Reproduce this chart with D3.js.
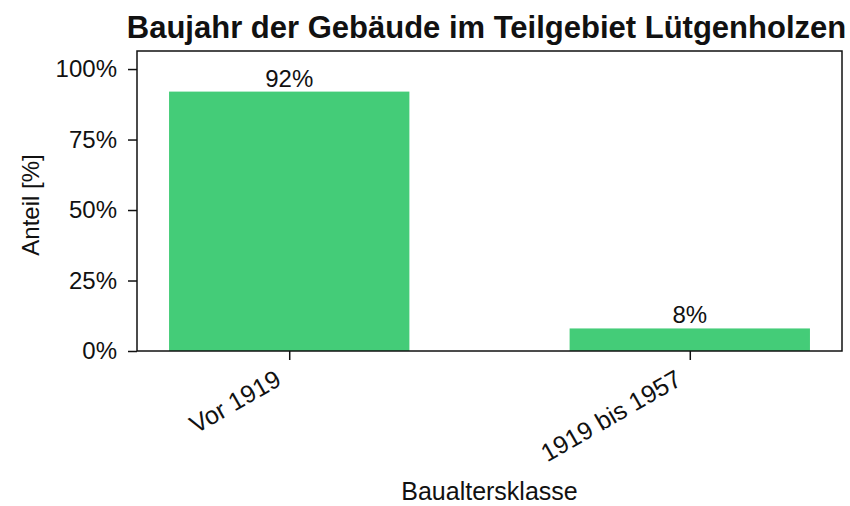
<!DOCTYPE html>
<html>
<head>
<meta charset="utf-8">
<script src="https://cdn.jsdelivr.net/npm/d3@7"></script>
<style>
  body { margin: 0; background: #fff; }
  text { font-family: "Liberation Sans", Arial, sans-serif; fill: #111; }
</style>
</head>
<body>
<div id="chart"></div>
<script>
// data
var categories = ["Vor 1919", "1919 bis 1957"];
var shares = [0.92, 0.08];
var barLabels = ["92%", "8%"];
var yTicks = [0, 0.25, 0.5, 0.75, 1.0];

var W = 850, H = 506;
var margin = {top: 51, right: 8, bottom: 155, left: 137},
    width = W - margin.left - margin.right,
    height = H - margin.top - margin.bottom;

var svg = d3.select("#chart")
  .append("svg")
    .attr("width", W)
    .attr("height", H)
  .append("g")
    .attr("transform", "translate(" + margin.left + "," + margin.top + ")");

// bars sit at 0,1 with width 0.6, like a default bar plot
var x = d3.scaleLinear().domain([-0.38, 1.38]).range([0, width]);
var y = d3.scaleLinear().domain([0, 1.064]).range([height, 0]);
var barW = 0.6;

svg.selectAll("rect.bar")
  .data(shares)
  .enter()
  .append("rect")
    .attr("class", "bar")
    .attr("x", function(d, i) { return x(i - barW / 2); })
    .attr("width", x(barW) - x(0))
    .attr("y", function(d) { return y(d); })
    .attr("height", function(d) { return height - y(d); })
    .style("fill", "#44cc78");

svg.selectAll("text.val")
  .data(shares)
  .enter()
  .append("text")
    .attr("class", "val")
    .attr("x", function(d, i) { return x(i); })
    .attr("y", function(d) { return y(d) - 5; })
    .attr("text-anchor", "middle")
    .style("font-size", "24px")
    .text(function(d, i) { return barLabels[i]; });

// y axis
var yAxis = svg.append("g")
    .call(d3.axisLeft(y).tickValues(yTicks).tickSize(9).tickPadding(11)
      .tickFormat(d3.format(".0%")));
yAxis.select(".domain").remove();
yAxis.selectAll("line").attr("stroke", "#111").attr("stroke-width", 1.5);
yAxis.selectAll("text").style("font-size", "24px").attr("fill", "#111");

// x axis
var xAxis = svg.append("g")
    .attr("transform", "translate(0," + height + ")")
    .call(d3.axisBottom(x).tickValues([0, 1]).tickSize(9)
      .tickFormat(function(d) { return categories[d]; }));
xAxis.select(".domain").remove();
xAxis.selectAll("line").attr("stroke", "#111").attr("stroke-width", 1.5);
xAxis.selectAll("text")
    .style("font-size", "25px")
    .attr("fill", "#111")
    .attr("text-anchor", "end")
    .attr("dy", null)
    .attr("y", 0)
    .attr("transform", "translate(-7,33) rotate(-30)");

// frame
svg.append("rect")
    .attr("width", width)
    .attr("height", height)
    .attr("fill", "none")
    .attr("stroke", "#111")
    .attr("stroke-width", 1.5);

// title and axis labels
svg.append("text")
    .attr("x", width / 2 - 3)
    .attr("y", -13)
    .attr("text-anchor", "middle")
    .style("font-size", "31px")
    .style("font-weight", "bold")
    .text("Baujahr der Gebäude im Teilgebiet Lütgenholzen");

svg.append("text")
    .attr("text-anchor", "middle")
    .attr("transform", "translate(" + (-98) + "," + (height / 2 + 4) + ") rotate(-90)")
    .style("font-size", "24px")
    .text("Anteil [%]");

svg.append("text")
    .attr("x", width / 2)
    .attr("y", height + 149)
    .attr("text-anchor", "middle")
    .style("font-size", "25px")
    .text("Baualtersklasse");
</script>
</body>
</html>
